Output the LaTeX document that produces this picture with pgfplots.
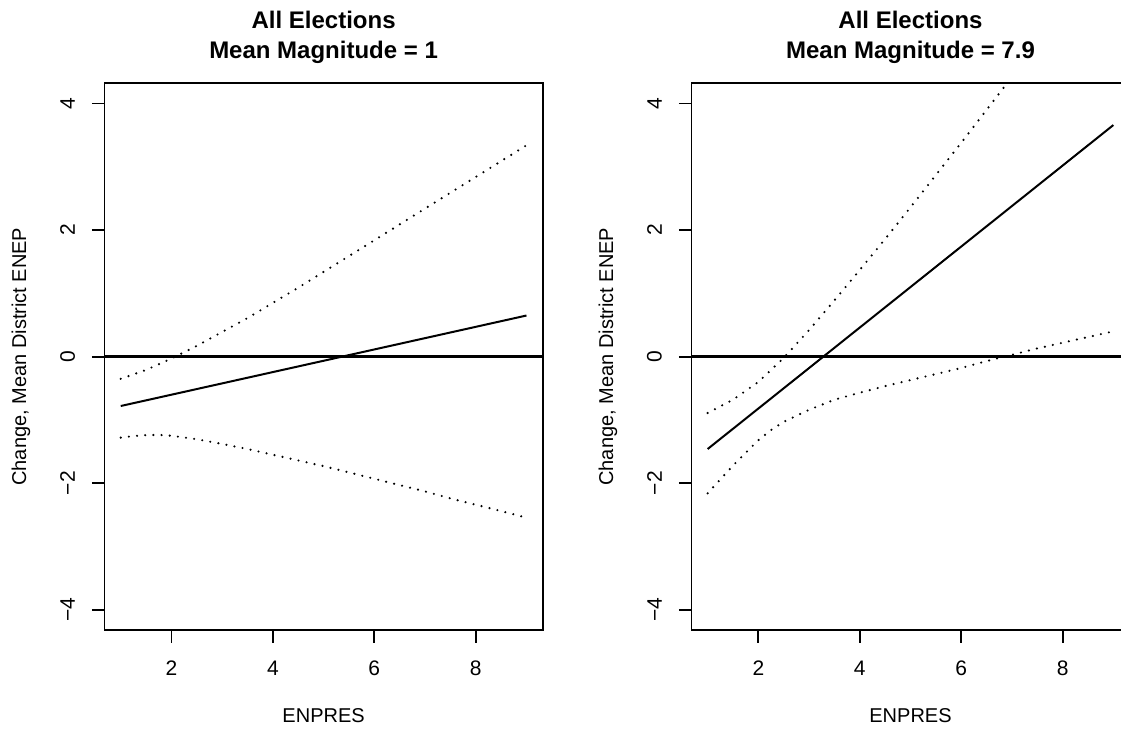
\documentclass[border=0pt]{standalone}
\usepackage{fontspec}
\setmainfont{Liberation Sans}
\usepackage{pgfplots}
\usepackage{pgfplotstable}
\pgfplotsset{compat=1.18}

% Marginal effect of ENPRES, district magnitude = 1
\pgfplotstableread{
x y
1 -0.78
9 0.65
}\effA
\pgfplotstableread{
x y
1 -0.35
1.5 -0.21
2 -0.03
2.5 0.17
3 0.39
3.5 0.61
4 0.85
4.5 1.09
5 1.34
5.5 1.59
6 1.84
6.5 2.09
7 2.34
7.5 2.59
8 2.84
8.5 3.09
9 3.34
}\upA
\pgfplotstableread{
x y
1 -1.28
1.25 -1.255
1.5 -1.24
1.75 -1.237
2 -1.25
2.5 -1.305
3 -1.38
3.5 -1.46
4 -1.55
4.5 -1.64
5 -1.73
5.5 -1.83
6 -1.93
6.5 -2.03
7 -2.13
7.5 -2.24
8 -2.34
8.5 -2.44
9 -2.545
}\loA

% Marginal effect of ENPRES, district magnitude = 7.9
\pgfplotstableread{
x y
1 -1.46
9 3.66
}\effB
\pgfplotstableread{
x y
1 -0.89
1.5 -0.68
2 -0.40
2.5 -0.02
3 0.42
3.5 0.89
4 1.37
4.5 1.86
5 2.36
5.5 2.87
6 3.38
6.5 3.90
7 4.42
7.5 4.94
8 5.46
8.5 5.98
9 6.50
}\upB
\pgfplotstableread{
x y
1 -2.16
1.25 -1.94
1.5 -1.72
1.75 -1.52
2 -1.32
2.25 -1.16
2.5 -1.03
3 -0.84
3.5 -0.68
4 -0.57
4.5 -0.465
5 -0.37
5.5 -0.275
6 -0.18
6.5 -0.07
7 0.03
7.5 0.13
8 0.22
8.5 0.31
9 0.40
}\loB

\pgfplotsset{
  rpanel/.style={
    width=219.1pt, height=273.35pt, scale only axis,
    xmin=0.68, xmax=9.32, ymin=-4.32, ymax=4.32,
    xtick={2,4,6,8}, xticklabels={2,4,6,8},
    ytick={-4,-2,0,2,4}, yticklabels={−4,−2,0,2,4},
    tick pos=left, tick align=outside,
    major tick length=6.25pt,
    minor tick num=0,
    every tick/.style={black, line width=0.9pt},
    axis line style={black, line width=0.9pt},
    tick label style={font=\fontsize{10.5}{12}\selectfont},
    xticklabel style={anchor=north, inner xsep=0pt, inner ysep=9pt},
    yticklabel style={rotate=90, anchor=south, inner xsep=0pt, inner ysep=8.3pt},
    label style={font=\fontsize{10}{12}\selectfont},
    xlabel style={at={(axis description cs:0.5,-0.15676)}, anchor=center, inner sep=0pt},
    ylabel style={at={(axis description cs:-0.1905,0.5)}, anchor=center, inner sep=0pt},
    title style={font=\fontsize{12}{15}\selectfont\bfseries, align=center,
      at={(axis description cs:0.5,1)}, anchor=center, yshift=16.9pt, inner sep=0pt},
    xlabel={ENPRES},
    ylabel={Change, Mean District ENEP},
  },
  zeroline/.style={black, line width=1.5pt},
  est/.style={black, line width=1pt},
  ci/.style={black, line width=1.2pt, line cap=round, dash pattern=on 0pt off 4.1pt},
}

\begin{document}
\begin{tikzpicture}
\begin{axis}[rpanel, at={(52.25pt,50pt)}, anchor=south west,
  title={All Elections\\Mean Magnitude = 1}]
  \addplot[zeroline] coordinates {(0,0) (10,0)};
  \addplot[est] table[x=x, y=y] {\effA};
  \addplot[ci] table[x=x, y=y] {\upA};
  \addplot[ci] table[x=x, y=y] {\loA};
\end{axis}
\begin{axis}[rpanel, at={(345.7pt,50pt)}, anchor=south west,
  title={All Elections\\Mean Magnitude = 7.9}]
  \addplot[zeroline] coordinates {(0,0) (10,0)};
  \addplot[est] table[x=x, y=y] {\effB};
  \addplot[ci] table[x=x, y=y] {\upB};
  \addplot[ci] table[x=x, y=y] {\loB};
\end{axis}
\pgfresetboundingbox
\useasboundingbox (0,0) rectangle (560.5pt,365pt);
\end{tikzpicture}
\end{document}
